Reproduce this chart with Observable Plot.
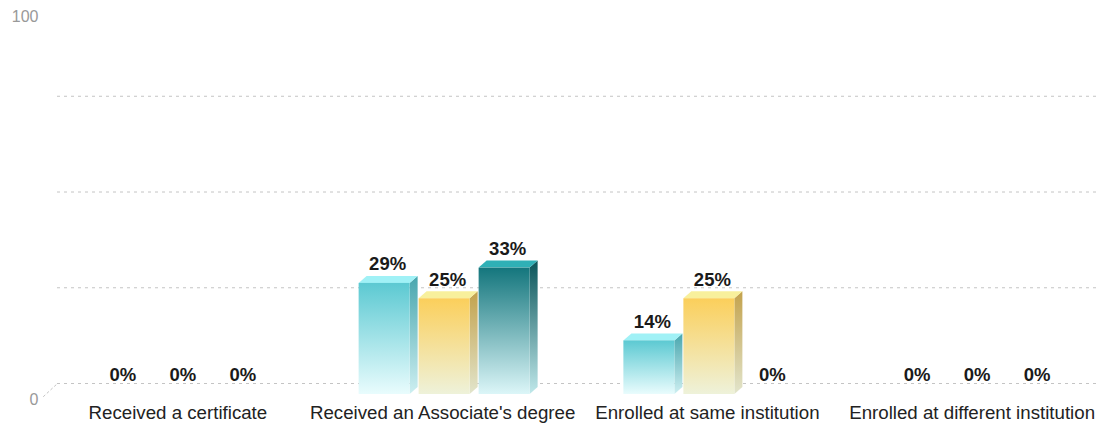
<!DOCTYPE html>
<html>
<head>
<meta charset="utf-8">
<script src="https://cdn.jsdelivr.net/npm/d3@7"></script>
<script src="https://cdn.jsdelivr.net/npm/@observablehq/plot@0.6"></script>
<style>
  html, body { margin: 0; padding: 0; background: #fff; }
  #chart svg { display: block; }
</style>
</head>
<body>
<svg width="0" height="0" style="position:absolute">
  <defs>
    <linearGradient id="cyanFront" x1="0" y1="0" x2="0" y2="1">
      <stop offset="0" stop-color="#5cc9d2"/><stop offset="1" stop-color="#e9fcfd"/>
    </linearGradient>
    <linearGradient id="cyanSide" x1="0" y1="0" x2="0" y2="1">
      <stop offset="0" stop-color="#48a6ae"/><stop offset="1" stop-color="#cdeff1"/>
    </linearGradient>
    <linearGradient id="yellowFront" x1="0" y1="0" x2="0" y2="1">
      <stop offset="0" stop-color="#fbcf5b"/><stop offset="1" stop-color="#eef2da"/>
    </linearGradient>
    <linearGradient id="yellowSide" x1="0" y1="0" x2="0" y2="1">
      <stop offset="0" stop-color="#c3a24c"/><stop offset="1" stop-color="#e2e5cc"/>
    </linearGradient>
    <linearGradient id="tealFront" x1="0" y1="0" x2="0" y2="1">
      <stop offset="0" stop-color="#14767d"/><stop offset="1" stop-color="#dcf6f8"/>
    </linearGradient>
    <linearGradient id="tealSide" x1="0" y1="0" x2="0" y2="1">
      <stop offset="0" stop-color="#0b555a"/><stop offset="1" stop-color="#bfe8ea"/>
    </linearGradient>
  </defs>
</svg>
<div id="chart"></div>
<script>
// ---- data ----
const categories = [
  "Received a certificate",
  "Received an Associate's degree",
  "Enrolled at same institution",
  "Enrolled at different institution"
];
const seriesNames = ["Series 1", "Series 2", "Series 3"];
const series1 = [0, 29, 14, 0];
const series2 = [0, 25, 25, 0];
const series3 = [0, 33, 0, 0];
const yTickLabels = [0, 100];
const gridValues = [0, 25, 50, 75];

// ---- styling ----
const seriesStyle = [
  {front: "url(#cyanFront)", side: "url(#cyanSide)", top: "#a0f1f6"},
  {front: "url(#yellowFront)", side: "url(#yellowSide)", top: "#f8f09c"},
  {front: "url(#tealFront)", side: "url(#tealSide)", top: "#2fb0b6"}
];

const W = 1106, H = 424, ML = 47, MR = 0, MT = 11, MB = 30;
const xDomain = [-0.5, categories.length - 0.5];
const unitX = (W - ML - MR) / (xDomain[1] - xDomain[0]); // px per category
const unitY = (H - MT - MB) / 100;   // px per percent
const step = 60 / unitX;              // bar spacing inside a group
const half = 25.5 / unitX;            // half bar width
const depthX = 8 / unitX;             // 3D depth, horizontal
const depthY = 7 / unitY;             // 3D depth, vertical

const allSeries = [series1, series2, series3];
const bars = [];
allSeries.forEach((vals, s) => {
  vals.forEach((v, i) => {
    bars.push({id: `${s}-${i}`, s, i, cat: categories[i], series: seriesNames[s], v,
      xc: i + (s - 1) * step});
  });
});

const marks = [];
// grid (back wall)
marks.push(Plot.ruleY(gridValues, {y: d => d, dx: 7, dy: -11, insetLeft: 3, insetRight: 13,
  stroke: "#c4c4c4", strokeWidth: 1, strokeDasharray: "3,4"}));
// diagonal floor edge at the axis origin
marks.push(Plot.line([
  {x: xDomain[0], y: 0},
  {x: xDomain[0] + 14 / unitX, y: 13 / unitY}
], {x: "x", y: "y", dx: -4, dy: 2, stroke: "#c4c4c4", strokeWidth: 1, strokeDasharray: "2,3"}));

seriesStyle.forEach((st, s) => {
  const data = bars.filter(b => b.s === s && b.v > 0);
  const side = data.flatMap(b => [
    {id: b.id, x: b.xc + half, y1: 0, y2: b.v},
    {id: b.id, x: b.xc + half + depthX, y1: depthY, y2: b.v + depthY}
  ]);
  const top = data.flatMap(b => [
    {id: b.id, x: b.xc - half, y1: b.v, y2: b.v},
    {id: b.id, x: b.xc - half + depthX, y1: b.v, y2: b.v + depthY},
    {id: b.id, x: b.xc + half, y1: b.v, y2: b.v + depthY},
    {id: b.id, x: b.xc + half + depthX, y1: b.v + depthY, y2: b.v + depthY}
  ]);
  marks.push(Plot.areaY(side, {x: "x", y1: "y1", y2: "y2", z: "id", fill: st.side}));
  marks.push(Plot.areaY(top, {x: "x", y1: "y1", y2: "y2", z: "id", fill: st.top}));
  marks.push(Plot.rect(data, {x1: d => d.xc - half, x2: d => d.xc + half, y1: d => 0, y2: "v", fill: st.front}));
});

// value labels
marks.push(Plot.text(bars, {x: "xc", y: "v", text: d => d.v + "%", dx: 3, dy: -19,
  fontSize: 18.5, fontWeight: "bold", fill: "#1a1a1a"}));

// category labels
marks.push(Plot.text(categories, {x: (d, i) => i, y: d => 0, text: d => d, dx: -2, dy: 19,
  fontSize: 18.7, fill: "#222"}));

// y labels
marks.push(Plot.text(yTickLabels, {y: d => d, text: d => String(d), frameAnchor: "left",
  textAnchor: "end", dx: -9, dy: 5, fontSize: 16, fill: "#999"}));

const chart = Plot.plot({
  width: W, height: H,
  marginLeft: ML, marginRight: MR, marginTop: MT, marginBottom: MB,
  x: {domain: xDomain, axis: null},
  y: {domain: [0, 100], axis: null},
  style: {fontFamily: "'Liberation Sans', Arial, Helvetica, sans-serif", background: "#fff", overflow: "visible"},
  marks
});
document.getElementById("chart").appendChild(chart);
</script>
</body>
</html>
